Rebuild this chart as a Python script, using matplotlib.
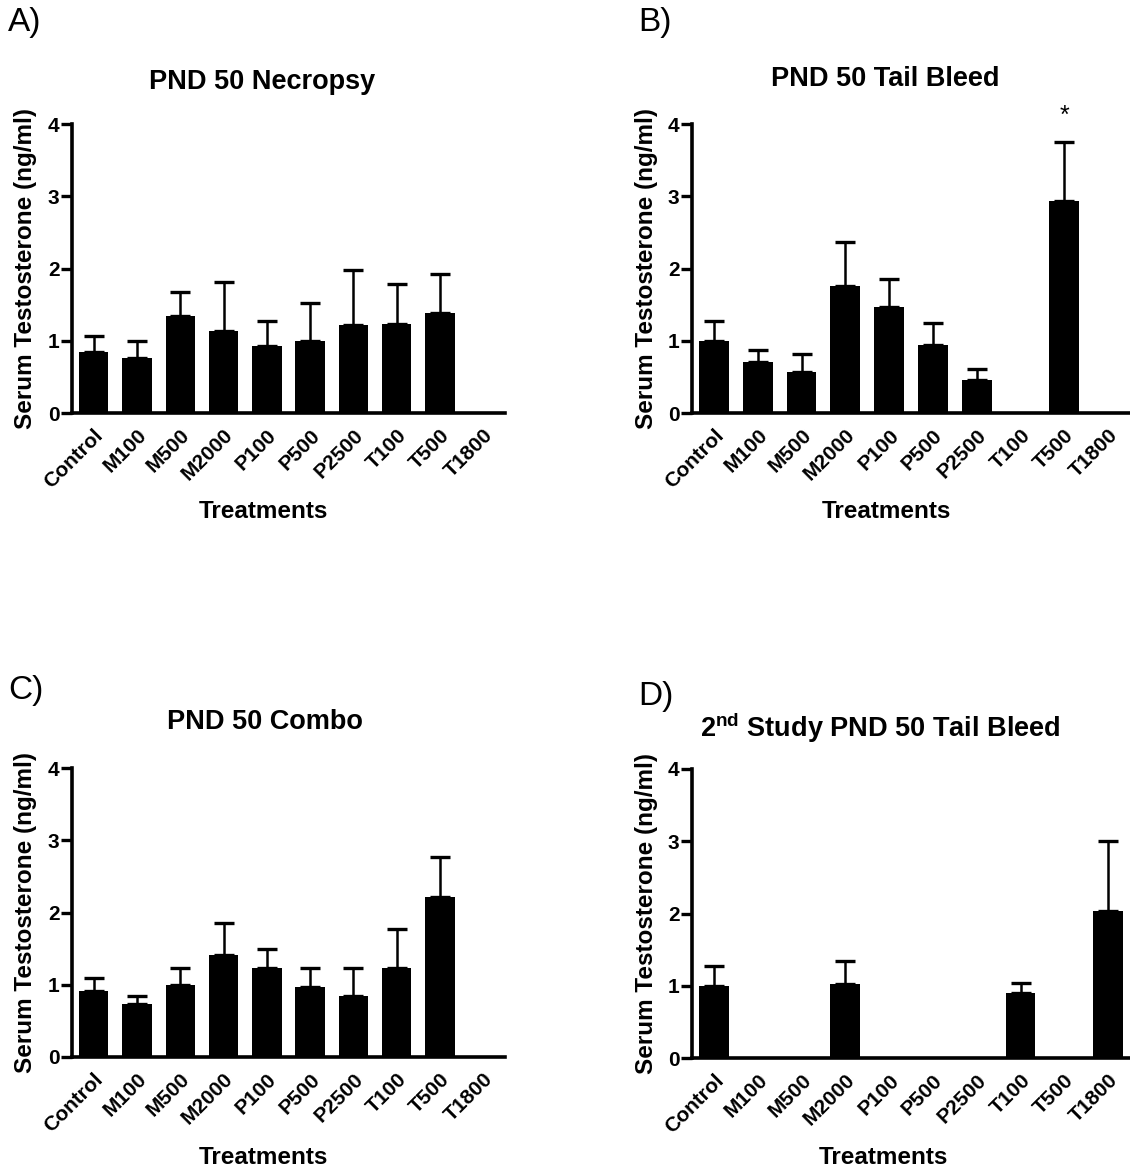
import matplotlib
matplotlib.use('Agg')
import matplotlib.pyplot as plt
import numpy as np

plt.rcParams['font.family'] = ['Liberation Sans', 'DejaVu Sans']
plt.rcParams['mathtext.fontset'] = 'custom'
plt.rcParams['mathtext.rm'] = 'Liberation Sans'
plt.rcParams['mathtext.bf'] = 'Liberation Sans:bold'

categories = ['Control', 'M100', 'M500', 'M2000', 'P100', 'P500', 'P2500', 'T100', 'T500', 'T1800']
nan = np.nan

necropsy_mean = [0.84, 0.76, 1.34, 1.14, 0.93, 1.00, 1.22, 1.23, 1.38, nan]
necropsy_sem = [0.22, 0.24, 0.33, 0.67, 0.34, 0.52, 0.76, 0.55, 0.54, nan]

tailbleed_mean = [1.00, 0.70, 0.57, 1.76, 1.47, 0.94, 0.46, nan, 2.93, nan]
tailbleed_sem = [0.27, 0.17, 0.24, 0.61, 0.39, 0.31, 0.15, nan, 0.82, nan]
tailbleed_sig = ['', '', '', '', '', '', '', '', '*', '']

combo_mean = [0.92, 0.73, 0.99, 1.41, 1.23, 0.97, 0.84, 1.23, 2.22, nan]
combo_sem = [0.17, 0.12, 0.24, 0.45, 0.26, 0.26, 0.39, 0.54, 0.55, nan]

study2_mean = [0.99, nan, nan, 1.03, nan, nan, nan, 0.90, nan, 2.04]
study2_sem = [0.29, nan, nan, 0.31, nan, nan, nan, 0.14, nan, 0.96]

W, H = 1130, 1170
fig = plt.figure(figsize=(W / 100, H / 100), dpi=100)


def px_axes(left, top, right, bottom):
    return fig.add_axes([left / W, 1 - bottom / H, (right - left) / W, (bottom - top) / H])


def draw(ax, means, sems, sig=None):
    x = np.arange(len(categories))
    means = np.array(means, dtype=float)
    sems = np.array(sems, dtype=float)
    ax.bar(x, means, width=0.68, color='black', zorder=2)
    ax.errorbar(x, means, yerr=[np.zeros_like(sems), sems], fmt='none', ecolor='black',
                elinewidth=1.8, capsize=7, capthick=2.4, zorder=1)
    if sig is not None:
        for i, s in enumerate(sig):
            if s:
                ax.text(x[i], means[i] + sems[i] + 0.36, s, ha='center', va='center',
                        fontsize=18, clip_on=False)
    ax.set_xlim(-0.5, 9.5)
    ax.set_ylim(0, 4)
    for sp in ['top', 'right']:
        ax.spines[sp].set_visible(False)
    for sp in ['left', 'bottom']:
        ax.spines[sp].set_linewidth(2.6)
    ax.set_yticks([0, 1, 2, 3, 4])
    ax.set_yticklabels(['0', '1', '2', '3', '4'], fontsize=15, fontweight='bold')
    ax.tick_params(axis='y', length=8, width=2.4, pad=1)
    ax.set_xticks(x)
    ax.set_xticklabels(categories, fontsize=15, fontweight='bold', rotation=45,
                       ha='right', rotation_mode='anchor')
    ax.tick_params(axis='x', length=0, pad=9)


panels = [
    (72, 124, 505, 413, necropsy_mean, necropsy_sem, None, 'A)', 'PND 50 Necropsy', (8, 22), (262, 82), 26, 263, 511),
    (692, 124, 1130, 413, tailbleed_mean, tailbleed_sem, tailbleed_sig, 'B)', 'PND 50 Tail Bleed', (638, 22), (885, 79), 646, 886, 511),
    (72, 768, 505, 1057, combo_mean, combo_sem, None, 'C)', 'PND 50 Combo', (8, 690), (265, 722), 26, 263, 1157),
    (692, 769, 1130, 1058, study2_mean, study2_sem, None, 'D)', r'$\mathbf{2^{nd}}$ Study PND 50 Tail Bleed', (638, 696), (880, 728), 646, 883, 1157),
]

for (l, t, r, b, m, s, sig, letter, title, lpos, tpos, ylx, xlx, xly) in panels:
    ax = px_axes(l, t, r, b)
    draw(ax, m, s, sig)
    fig.text(lpos[0] / W, 1 - lpos[1] / H, letter, fontsize=24, ha='left', va='center')
    fig.text(tpos[0] / W, 1 - tpos[1] / H, title, fontsize=19.5, fontweight='bold', ha='center', va='center')
    fig.text(ylx / W, 1 - ((t + b) / 2) / H, 'Serum Testosterone (ng/ml)', fontsize=17.5,
             fontweight='bold', rotation=90, ha='center', va='center')
    fig.text(xlx / W, 1 - xly / H, 'Treatments', fontsize=17.5, fontweight='bold', ha='center', va='center')

fig.savefig('out.png', dpi=100)
